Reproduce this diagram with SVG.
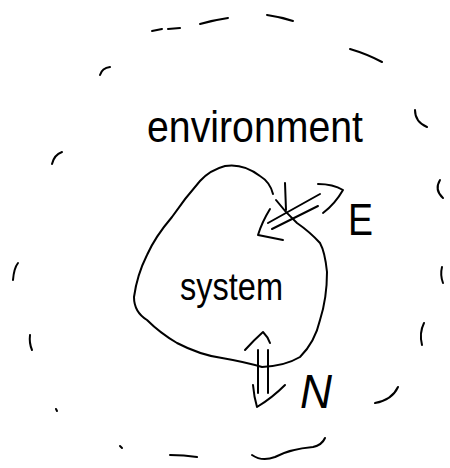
<svg xmlns="http://www.w3.org/2000/svg" width="450" height="468" viewBox="0 0 450 468">
<style>
.s{fill:none;stroke:#000;stroke-width:2;stroke-linecap:round;stroke-linejoin:round}
.d{fill:none;stroke:#000;stroke-width:2;stroke-linecap:round}
.t{font-family:"Liberation Sans",Arial,sans-serif;fill:#000}
.i{font-style:italic}
</style>
<rect width="450" height="468" fill="#fff"/>
<g id="environment">
<g id="env-boundary">
<path class="d" d="M152,31 L162,29"/>
<path class="d" d="M168,29 L180,28"/>
<path class="d" d="M200,24 Q214,20 228,18"/>
<path class="d" d="M267,15 Q281,17 293,21"/>
<path class="d" d="M350,49 Q367,54 382,62"/>
<path class="d" d="M100,75 Q102,68 110,67"/>
<path class="d" d="M415,110 Q415,122 427,127"/>
<path class="d" d="M52,164 Q54,155 62,152"/>
<path class="d" d="M440,180 Q434,190 443,198"/>
<path class="d" d="M13,280 Q14,268 18,263"/>
<path class="d" d="M442,267 Q440,275 443,283"/>
<path class="d" d="M30,335 Q29,343 32,350"/>
<path class="d" d="M424,323 Q419,333 422,345"/>
<path class="d" d="M375,403 Q392,400 398,387"/>
<path class="d" d="M56,409 L57,411"/>
<path class="d" d="M120,446 L122,448"/>
<path class="d" d="M170,455 Q184,455 197,457"/>
<path class="d" d="M252,455 Q262,462 275,457 Q290,449 313,447 Q322,445 325,438"/>
</g>
<text class="t" x="147" y="142" font-size="44" textLength="216" lengthAdjust="spacingAndGlyphs">environment</text>
</g>
<g id="system">
<path class="s" d="M273,194 Q270,182 260,176 Q243,163 225,166 Q210,170 200,181 Q185,198 172,217 Q155,237 147,255 Q137,275 134,297 Q134,312 147,320 Q160,333 177,343 Q200,355 222,358 Q245,362 262,367 Q285,366 300,357 Q315,342 320,320 Q327,298 327,272 Q325,252 320,243 Q310,232 297,223 Q285,212 276,200"/>
<text class="t" x="180" y="300" font-size="38" textLength="103" lengthAdjust="spacingAndGlyphs">system</text>
</g>
<g id="connectors">
<g id="arrow-E">
<path class="s" d="M320,194 L268,223"/>
<path class="s" d="M318,206 L272,229"/>
<path class="s" d="M270,209 Q262,222 258,235 L283,240"/>
<path class="s" d="M318,184 Q333,184 343,190 Q335,204 323,213"/>
<path class="s" d="M285,183 L286,210"/>
</g>
<g id="arrow-N">
<path class="s" d="M258,350 L258,393"/>
<path class="s" d="M268,350 L268,393"/>
<path class="s" d="M245,350 Q254,340 263,332 Q268,337 270,343"/>
<path class="s" d="M253,385 Q254,397 257,407 Q272,398 285,385"/>
</g>
</g>
<g id="label-E"><text class="t" x="348" y="235" font-size="44" textLength="25" lengthAdjust="spacingAndGlyphs">E</text></g>
<g id="label-N"><text class="t i" x="300" y="408" font-size="48" textLength="32" lengthAdjust="spacingAndGlyphs">N</text></g>
</svg>
